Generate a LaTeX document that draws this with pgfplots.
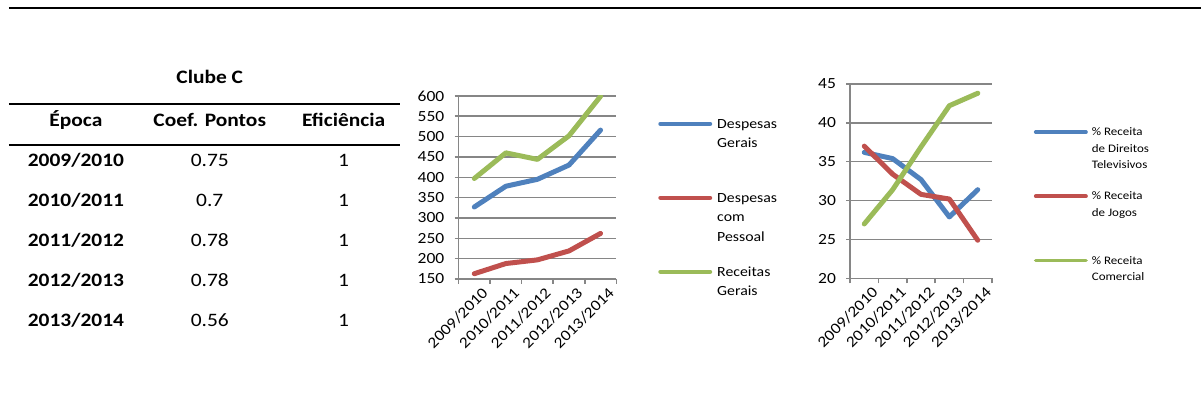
\documentclass[border=0pt]{standalone}
\usepackage{fontspec}
\setmainfont{Carlito}[FakeStretch=1.13]
\usepackage{pgfplots}
\pgfplotsset{compat=1.18}

\definecolor{serA}{RGB}{79,129,189}
\definecolor{serB}{RGB}{192,80,77}
\definecolor{serC}{RGB}{155,187,89}
\definecolor{gridc}{RGB}{134,134,134}

% season-by-season values for Clube C
\pgfplotstableread{
x desp pess rec
0 327 163 397
1 378 188 460
2 395 197 444
3 430 219 502
4 516 262 599
}\financas

\pgfplotstableread{
x tv jogos com
0 36.2 37.0 27.0
1 35.4 33.4 31.4
2 32.7 30.8 36.9
3 27.9 30.2 42.2
4 31.4 24.9 43.8
}\receitas

\pgfplotsset{
  clubchart/.style={
    scale only axis,
    axis lines*=left,
    axis line style={gridc, line width=1.5pt},
    xmin=-0.5, xmax=4.5,
    xtick={0,1,2,3,4},
    xticklabels={2009/2010,2010/2011,2011/2012,2012/2013,2013/2014},
    major x tick style={draw=none},
    minor xtick={-0.5,0.5,1.5,2.5,3.5,4.5},
    minor tick length=5pt,
    minor x tick style={gridc, line width=1.5pt},
    major tick length=4pt,
    major y tick style={gridc, line width=1.5pt},
    tick align=outside,
    ymajorgrids,
    major grid style={gridc, line width=1.5pt},
    /pgf/number format/assume math mode=true,
    ticklabel style={font=\fontsize{15.5}{17}\selectfont, text=black},
    yticklabel style={anchor=east, inner sep=0pt, xshift=-10pt},
    xticklabel style={rotate=45, anchor=north east, inner sep=0pt, xshift=2.5pt, yshift=-7pt},
    legend style={draw=none, fill=none, anchor=north west, inner sep=0pt, outer sep=0pt},
    series/.style={line width=5pt, line join=round, line cap=round},
  }
}

\begin{document}
\begin{tikzpicture}
  % page frame
  \path (0pt,0pt) rectangle (1202pt,-409pt);
  \draw[line width=2.6pt] (9pt,-8pt) -- (1202pt,-8pt);

  % efficiency table
  \begin{scope}[every node/.style={inner sep=0pt, anchor=base, font=\fontsize{19}{22}\selectfont}]
    \node[font=\fontsize{19}{22}\selectfont\bfseries] at (210pt,-84pt) {Clube C};
    \draw[line width=1.4pt] (9pt,-104.3pt) -- (400pt,-104.3pt);
    \node[font=\fontsize{19}{22}\selectfont\bfseries] at (76pt,-127pt) {Época};
    \node[font=\fontsize{19}{22}\selectfont\bfseries] at (210pt,-127pt) {Coef. Pontos};
    \node[font=\fontsize{19}{22}\selectfont\bfseries] at (344pt,-127pt) {Eficiência};
    \draw[line width=1.4pt] (9pt,-145pt) -- (400pt,-145pt);
    \node[font=\fontsize{19}{22}\selectfont\bfseries] at (76pt,-166.7pt) {2009/2010};
    \node[font=\fontsize{19}{22}\selectfont\bfseries] at (76pt,-206.7pt) {2010/2011};
    \node[font=\fontsize{19}{22}\selectfont\bfseries] at (76pt,-246.7pt) {2011/2012};
    \node[font=\fontsize{19}{22}\selectfont\bfseries] at (76pt,-286.7pt) {2012/2013};
    \node[font=\fontsize{19}{22}\selectfont\bfseries] at (76pt,-326.7pt) {2013/2014};
    \node at (210pt,-166.7pt) {0.75};
    \node at (210pt,-206.7pt) {0.7};
    \node at (210pt,-246.7pt) {0.78};
    \node at (210pt,-286.7pt) {0.78};
    \node at (210pt,-326.7pt) {0.56};
    \node at (344pt,-166.7pt) {1};
    \node at (344pt,-206.7pt) {1};
    \node at (344pt,-246.7pt) {1};
    \node at (344pt,-286.7pt) {1};
    \node at (344pt,-326.7pt) {1};
  \end{scope}

  % expenses and revenue
  \begin{axis}[clubchart,
    at={(459pt,-279.3pt)}, anchor=south west,
    width=158pt, height=183.3pt,
    ymin=150, ymax=600, ytick={150,200,...,600},
    legend style={at={(1.26582,0.87725)}, row sep=14pt, column sep=5pt,
      font=\fontsize{14}{19.5}\selectfont,
      nodes={anchor=base west, inner sep=0pt, text height=10pt, text depth=50pt}},
    legend image code/.code={\draw[#1, line width=4.2pt, line cap=round] (2.1pt,4.5pt) -- (51.9pt,4.5pt);},
  ]
    \addplot[series, serA] table[x=x, y=desp] {\financas};
    \addlegendentry{\parbox[t]{80pt}{Despesas\\Gerais}}
    \addplot[series, serB] table[x=x, y=pess] {\financas};
    \addlegendentry{\parbox[t]{80pt}{Despesas\\com\\Pessoal}}
    \addplot[series, serC] table[x=x, y=rec] {\financas};
    \addlegendentry{\parbox[t]{80pt}{Receitas\\Gerais}}
  \end{axis}

  % revenue shares
  \begin{axis}[clubchart,
    at={(851pt,-278.7pt)}, anchor=south west,
    width=142pt, height=194.7pt,
    ymin=20, ymax=45, ytick={20,25,...,45},
    legend style={at={(1.2958,0.7740)}, row sep=16.2pt, column sep=4pt,
      font=\fontsize{11.5}{16.3}\selectfont,
      nodes={anchor=base west, inner sep=0pt, text height=8pt, text depth=40pt}},
    legend image code/.code={\draw[#1, line width=3.6pt, line cap=round] (1.8pt,3.7pt) -- (52.2pt,3.7pt);},
  ]
    \addplot[series, serA] table[x=x, y=tv] {\receitas};
    \addlegendentry{\parbox[t]{90pt}{\% Receita\\de Direitos\\Televisivos}}
    \addplot[series, serB] table[x=x, y=jogos] {\receitas};
    \addlegendentry{\parbox[t]{90pt}{\% Receita\\de Jogos}}
    \addplot[series, serC] table[x=x, y=com] {\receitas};
    \addlegendentry{\parbox[t]{90pt}{\% Receita\\Comercial}}
  \end{axis}
\end{tikzpicture}
\end{document}
